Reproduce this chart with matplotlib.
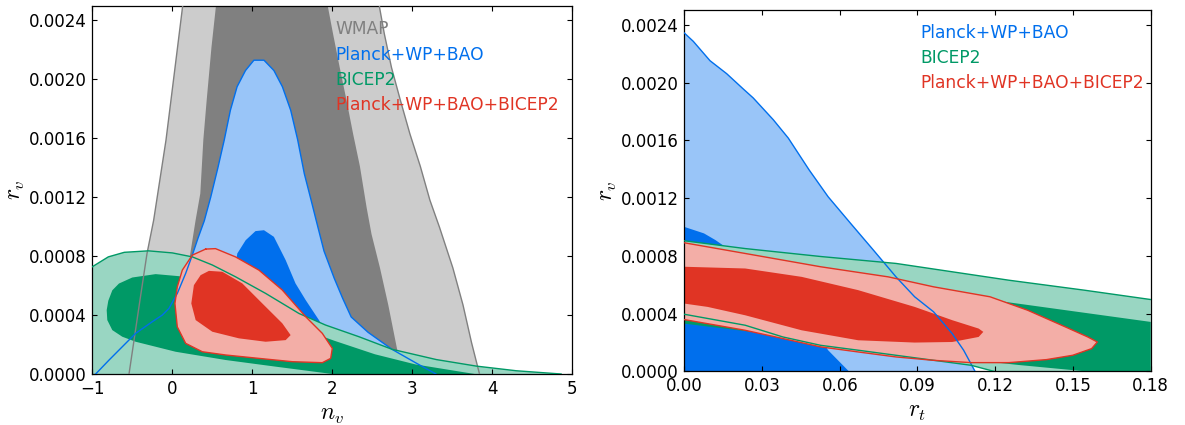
import matplotlib
matplotlib.use("Agg")
import matplotlib.pyplot as plt
from matplotlib.ticker import FormatStrFormatter

plt.rcParams['mathtext.fontset'] = 'cm'
plt.rcParams['font.family'] = ['DejaVu Sans']

# ---------------- colours ----------------
BLUE = '#006FED'; BLUE_L = '#99C5F8'
GREEN = '#009966'; GREEN_L = '#99D6C2'
RED = '#E03424'; RED_L = '#F3AEA7'
GRAY = '#808080'; GRAY_L = '#CCCCCC'

# ================= LEFT PANEL (n_v, r_v) =================
# WMAP 2-sigma boundaries (left / right edges)
wmap2_left_n = [-0.541, -0.404, -0.316, -0.233, -0.079, 0.036, 0.13, 0.15]
wmap2_left_r = [0.0, 0.000502, 0.000818, 0.001044, 0.001587, 0.002088, 0.0025, 0.0026]
wmap2_right_n = [2.60, 2.59, 2.65, 2.74, 2.85, 2.97, 3.10, 3.22, 3.34, 3.507, 3.634, 3.74, 3.84]
wmap2_right_r = [0.0026, 0.00249, 0.00231, 0.00208, 0.00186, 0.00163, 0.00141, 0.00118, 0.000996, 0.00072, 0.000468, 0.000214, 0.0]
# WMAP 1-sigma boundaries
wmap1_left_n = [0.50, 0.40, 0.27, 0.22, 0.29, 0.35, 0.388, 0.43, 0.49, 0.546, 0.56]
wmap1_left_r = [0.0, 0.0004, 0.0007, 0.0008, 0.00104, 0.001225, 0.00159, 0.00186, 0.00222, 0.0025, 0.0026]
wmap1_right_n = [1.94, 1.946, 2.009, 2.093, 2.177, 2.26, 2.345, 2.429, 2.49, 2.596, 2.70, 2.81, 2.90]
wmap1_right_r = [0.0026, 0.00249, 0.00231, 0.00208, 0.00186, 0.00163, 0.00141, 0.00113, 0.00095, 0.00072, 0.000468, 0.000168, 0.0]

# Planck+WP+BAO 2-sigma
planck2_n = [-0.958, -0.79, -0.625, -0.458, -0.25, -0.125, -0.042, 0.0625, 0.167, 0.25, 0.32,
             0.40, 0.48, 0.57, 0.65, 0.726, 0.81, 0.915, 1.02, 1.146, 1.27, 1.376, 1.48,
             1.567, 1.65, 1.735, 1.798, 1.896, 2.024, 2.13, 2.236, 2.447, 2.745, 3.04, 3.295]
planck2_r = [0.0, 0.000095, 0.000185, 0.000276, 0.000355, 0.0004, 0.000445, 0.000547, 0.000683,
             0.000807, 0.00092, 0.00104, 0.0012, 0.0014, 0.00159, 0.00179, 0.00195, 0.00206,
             0.00213, 0.00213, 0.00206, 0.00195, 0.00179, 0.00159, 0.00136, 0.00118, 0.001044,
             0.000835, 0.00065, 0.000513, 0.000387, 0.000283, 0.000168, 0.0000766, 0.0]
# Planck+WP+BAO 1-sigma
planck1_n = [1.04, 1.146, 1.27, 1.417, 1.54, 1.667, 1.833, 1.9, 1.6, 1.2, 0.9, 0.75, 0.8125, 0.917]
planck1_r = [0.00097, 0.000976, 0.000931, 0.000773, 0.000615, 0.000502, 0.000366, 0.0003,
             0.00025, 0.0003, 0.0004, 0.0006, 0.000818, 0.000908]

# BICEP2 2-sigma (upper edge; region extends down to r=0)
bicep2_n = [-1.0, -0.8, -0.6, -0.3, 0.0, 0.25, 0.5, 0.79, 1.167, 1.583, 1.917, 2.333, 2.745,
            3.3, 3.8, 4.3, 4.86]
bicep2_r = [0.000728, 0.000795, 0.000826, 0.000836, 0.000822, 0.000795, 0.00074, 0.00066,
            0.000547, 0.000411, 0.000332, 0.000253, 0.000168, 0.000098, 0.0000536, 0.000022, 0.0]
# BICEP2 1-sigma
bicep1_n = [-0.82, -0.80, -0.75, -0.667, -0.5, -0.208, 0.083, 0.4, 0.8, 1.2, 1.6, 1.85, 2.024,
            2.532, 3.04, 3.78, 2.0, 1.29, 0.667, 0.042, -0.458, -0.625, -0.75, -0.8125]
bicep1_r = [0.000434, 0.000497, 0.000568, 0.000614, 0.000655, 0.000678, 0.000664, 0.00062,
            0.00054, 0.00045, 0.00034, 0.00026, 0.000226, 0.000134, 0.000065, 0.0, 0.0,
            0.00005, 0.000095, 0.000151, 0.000219, 0.000253, 0.000298, 0.000366]

# Planck+WP+BAO+BICEP2 2-sigma
comb2_n = [0.417, 0.54, 0.79, 1.083, 1.375, 1.667, 1.875, 2.0, 1.98, 1.875, 1.5, 1.083, 0.667,
           0.375, 0.167, 0.0625, 0.033, 0.0625, 0.125, 0.25]
comb2_r = [0.000848, 0.000851, 0.000795, 0.000705, 0.00057, 0.000389, 0.000276, 0.000174,
           0.000106, 0.0000768, 0.0000836, 0.000106, 0.000129, 0.000151, 0.000208, 0.00032,
           0.000479, 0.000592, 0.000705, 0.000807]
# Planck+WP+BAO+BICEP2 1-sigma
comb1_n = [0.458, 0.625, 0.875, 1.125, 1.375, 1.479, 1.417, 1.167, 0.833, 0.5, 0.292, 0.2375,
           0.27, 0.354]
comb1_r = [0.0007, 0.000694, 0.000615, 0.000479, 0.000344, 0.000264, 0.00023, 0.000219,
           0.000242, 0.000287, 0.000366, 0.000479, 0.000603, 0.000671]

# ================= RIGHT PANEL (r_t, r_v) =================
planck2_rt = [0.0, 0.00347, 0.00992, 0.01636, 0.02277, 0.0266, 0.03435, 0.04014, 0.0482,
              0.0555, 0.0642, 0.073, 0.0817, 0.0889, 0.0962, 0.1034, 0.1078, 0.1122]
planck2_rv = [0.002343, 0.002285, 0.002151, 0.002061, 0.001955, 0.001893, 0.001742, 0.001615,
              0.001394, 0.001209, 0.001024, 0.000839, 0.000654, 0.000516, 0.000412, 0.000261,
              0.000146, 0.0]
planck1_rt = [0.0, 0.0076, 0.012, 0.02, 0.03, 0.04, 0.05, 0.0555, 0.0635]
planck1_rv = [0.001, 0.000955, 0.000909, 0.00081, 0.00066, 0.00049, 0.0003, 0.000146, 0.0]

bicep2_top_rt = [0.0, 0.0235, 0.0526, 0.0817, 0.1252, 0.1543, 0.18]
bicep2_top_rv = [0.000904, 0.00085, 0.000795, 0.000747, 0.000631, 0.000562, 0.000497]
bicep2_bot_rt = [0.0, 0.0235, 0.038, 0.0526, 0.0671, 0.0817, 0.0962, 0.1107, 0.1194]
bicep2_bot_rv = [0.000395, 0.000319, 0.000238, 0.00018, 0.000146, 0.000111, 0.0000763, 0.0000416, 0.0]
bicep1_top_rt = [0.0, 0.05, 0.1, 0.1238, 0.18]
bicep1_top_rv = [0.00072, 0.00063, 0.00053, 0.000481, 0.000342]
bicep1_bot_rt = [0.0, 0.05, 0.1, 0.1289, 0.1547]
bicep1_bot_rv = [0.00033, 0.00022, 0.0001, 0.000044, 0.0]

comb2_rt = [0.0, 0.0235, 0.0526, 0.0787, 0.0962, 0.118, 0.1325, 0.147, 0.1557, 0.1594, 0.1572,
            0.1499, 0.1398, 0.1252, 0.1107, 0.0962, 0.0817, 0.0671, 0.0526, 0.038, 0.0235, 0.0]
comb2_rv = [0.00089, 0.000816, 0.000724, 0.000654, 0.000585, 0.000516, 0.000423, 0.000308,
            0.000238, 0.000203, 0.000157, 0.000111, 0.000081, 0.00006, 0.00006, 0.000076,
            0.0000994, 0.000134, 0.000169, 0.000227, 0.000284, 0.000358]
comb1_rt = [0.0, 0.0235, 0.0453, 0.0671, 0.0889, 0.1034, 0.1136, 0.1154, 0.1136, 0.1034,
            0.0889, 0.0671, 0.0453, 0.0235, 0.009, 0.0]
comb1_rv = [0.000724, 0.000712, 0.000654, 0.000562, 0.000446, 0.000354, 0.000296, 0.000273,
            0.000238, 0.000203, 0.000199, 0.000215, 0.000284, 0.000388, 0.000446, 0.000469]

left_labels = ['WMAP', 'Planck+WP+BAO', 'BICEP2', 'Planck+WP+BAO+BICEP2']
left_label_colors = [GRAY, BLUE, GREEN, RED]
left_label_r = [0.00235, 0.002174, 0.002, 0.00183]
right_labels = ['Planck+WP+BAO', 'BICEP2', 'Planck+WP+BAO+BICEP2']
right_label_colors = [BLUE, GREEN, RED]
right_label_r = [0.00235, 0.002176, 0.002007]

LW = 1.0

fig = plt.figure(figsize=(11.85, 4.25), dpi=100)
axL = fig.add_axes([92.3 / 1185, 1 - 374 / 425, 480 / 1185, 368.3 / 425])
axR = fig.add_axes([684.3 / 1185, 1 - 371.3 / 425, 466.4 / 1185, 361 / 425])

# ----- left fills -----
axL.fill(wmap2_left_n + wmap2_right_n, wmap2_left_r + wmap2_right_r, color=GRAY_L, lw=0, zorder=1)
axL.fill(wmap1_left_n + wmap1_right_n, wmap1_left_r + wmap1_right_r, color=GRAY, lw=0, zorder=1.1)
axL.fill(planck2_n, planck2_r, color=BLUE_L, lw=0, zorder=1.2)
axL.fill(planck1_n, planck1_r, color=BLUE, lw=0, zorder=1.3)
axL.fill(bicep2_n + [bicep2_n[0]], bicep2_r + [0.0], color=GREEN_L, lw=0, zorder=1.4)
axL.fill(bicep1_n, bicep1_r, color=GREEN, lw=0, zorder=1.5)
axL.fill(comb2_n, comb2_r, color=RED_L, lw=0, zorder=1.6)
axL.fill(comb1_n, comb1_r, color=RED, lw=0, zorder=1.7)
# ----- left lines -----
axL.plot(wmap2_left_n, wmap2_left_r, color=GRAY, lw=LW, zorder=3)
axL.plot(wmap2_right_n, wmap2_right_r, color=GRAY, lw=LW, zorder=3)
axL.plot(planck2_n, planck2_r, color=BLUE, lw=LW, zorder=3)
axL.plot(bicep2_n, bicep2_r, color=GREEN, lw=LW, zorder=3)
axL.plot(comb2_n + [comb2_n[0]], comb2_r + [comb2_r[0]], color=RED, lw=LW, zorder=3)

# ----- right fills -----
axR.fill([0.0] + planck2_rt, [0.0] + planck2_rv, color=BLUE_L, lw=0, zorder=1.2)
axR.fill([0.0] + planck1_rt, [0.0] + planck1_rv, color=BLUE, lw=0, zorder=1.3)
axR.fill(bicep2_top_rt + [0.18, 0.18] + bicep2_bot_rt[::-1],
         bicep2_top_rv + [0.0, 0.0] + bicep2_bot_rv[::-1], color=GREEN_L, lw=0, zorder=1.4)
axR.fill(bicep1_top_rt + [0.18] + bicep1_bot_rt[::-1],
         bicep1_top_rv + [0.0] + bicep1_bot_rv[::-1], color=GREEN, lw=0, zorder=1.5)
axR.fill(comb2_rt, comb2_rv, color=RED_L, lw=0, zorder=1.6)
axR.fill(comb1_rt, comb1_rv, color=RED, lw=0, zorder=1.7)
# ----- right lines -----
axR.plot(planck2_rt, planck2_rv, color=BLUE, lw=LW, zorder=3)
axR.plot(bicep2_top_rt, bicep2_top_rv, color=GREEN, lw=LW, zorder=3)
axR.plot(bicep2_bot_rt, bicep2_bot_rv, color=GREEN, lw=LW, zorder=3)
axR.plot(comb2_rt, comb2_rv, color=RED, lw=LW, zorder=3)

# ----- labels -----
for t, c, r in zip(left_labels, left_label_colors, left_label_r):
    axL.text(2.04, r - 0.000041, t, color=c, fontsize=12.3, ha='left', va='baseline', zorder=4)
for t, c, r in zip(right_labels, right_label_colors, right_label_r):
    axR.text(0.0912, r - 0.000042, t, color=c, fontsize=12.3, ha='left', va='baseline', zorder=4)

axL.set_xlim(-1, 5)
axL.set_ylim(0, 0.0025)
axL.set_xticks([-1, 0, 1, 2, 3, 4, 5])
axR.set_xlim(0, 0.18)
axR.set_ylim(0, 0.0025)
axR.set_xticks([0.0, 0.03, 0.06, 0.09, 0.12, 0.15, 0.18])
axR.xaxis.set_major_formatter(FormatStrFormatter('%.2f'))

for ax in (axL, axR):
    ax.set_yticks([0.0, 0.0004, 0.0008, 0.0012, 0.0016, 0.002, 0.0024])
    ax.yaxis.set_major_formatter(FormatStrFormatter('%.4f'))
    ax.tick_params(direction='in', top=True, right=True, length=3.5, width=0.8,
                   labelsize=12, pad=4)
    for s in ax.spines.values():
        s.set_linewidth(0.9)
    ax.set_ylabel('$r_v$', fontsize=17, labelpad=1.5)

axL.set_xlabel('$n_v$', fontsize=17, labelpad=3)
axR.set_xlabel('$r_t$', fontsize=17, labelpad=3)

fig.savefig('out.png', dpi=100)
